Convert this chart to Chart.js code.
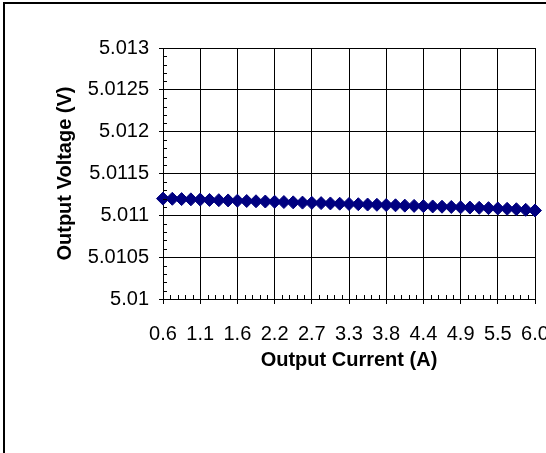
<!DOCTYPE html>
<html>
<head>
<meta charset="utf-8">
<script src="https://cdn.jsdelivr.net/npm/chart.js@4"></script>
<style>
  html, body { margin: 0; padding: 0; background: #fff; overflow: hidden; }
  #wrap { position: relative; width: 546px; height: 453px; }
  #frame { position: absolute; left: 3px; top: 2px; width: 600px; height: 500px; border: 2px solid #000; box-sizing: border-box; pointer-events: none; }
  canvas { position: absolute; left: 0; top: 0; }
</style>
</head>
<body>
<div id="wrap">
  <canvas id="c" width="546" height="453"></canvas>
  <div id="frame"></div>
</div>
<script>
// Output current (A), one entry per measurement; only every 4th is printed
const currents = [
  '0.6','0.7','0.8','1.0','1.1','1.2','1.4','1.5','1.6','1.8',
  '1.9','2.0','2.2','2.3','2.4','2.6','2.7','2.9','3.0','3.1',
  '3.3','3.4','3.5','3.7','3.8','4.0','4.1','4.2','4.4','4.5',
  '4.6','4.8','4.9','5.1','5.2','5.3','5.5','5.6','5.7','5.9','6.0'
];
// Output voltage (V)
const voltages = [
  5.011200, 5.011198, 5.011194, 5.011191, 5.011188, 5.011184, 5.011181, 5.011178, 5.011175, 5.011171,
  5.011168, 5.011165, 5.011162, 5.011159, 5.011155, 5.011152, 5.011149, 5.011146, 5.011142, 5.011139,
  5.011136, 5.011133, 5.011129, 5.011126, 5.011123, 5.011120, 5.011116, 5.011113, 5.011110, 5.011106,
  5.011103, 5.011100, 5.011096, 5.011093, 5.011090, 5.011086, 5.011082, 5.011078, 5.011073, 5.011066, 5.011058
];
const yTickLabels = ['5.01','5.0105','5.011','5.0115','5.012','5.0125','5.013'];
const labelEvery = 4;

const FONT = 'Liberation Sans, Arial, sans-serif';

// small inward minor ticks like the spreadsheet axes
const minorTicks = {
  id: 'minorTicks',
  afterDraw(chart){
    const {ctx, scales: {x, y}, chartArea: a} = chart;
    ctx.save();
    ctx.strokeStyle = '#000';
    ctx.lineWidth = 1;
    ctx.beginPath();
    for (let v = 5.0101; v < 5.013; v += 0.0001) {
      if (Math.abs(v * 2000 - Math.round(v * 2000)) < 1e-6) continue;
      const py = Math.round(y.getPixelForValue(v)) + 0.5;
      ctx.moveTo(a.left, py); ctx.lineTo(a.left + 4, py);
    }
    for (let i = 0; i < currents.length - 1; i += 0.8) {
      if (Math.abs(i / labelEvery - Math.round(i / labelEvery)) < 1e-6) continue;
      const px = Math.round(x.getPixelForValue(i)) + 0.5;
      ctx.moveTo(px, a.bottom); ctx.lineTo(px, a.bottom - 4);
    }
    ctx.stroke();
    ctx.restore();
  }
};

new Chart(document.getElementById('c'), {
  type: 'line',
  data: {
    labels: currents,
    datasets: [{
      data: voltages,
      borderColor: '#000080',
      borderWidth: 2,
      backgroundColor: '#000080',
      pointStyle: 'rectRot',
      pointRadius: 6.5,
      pointBorderWidth: 1,
      pointBorderColor: '#000080',
      pointBackgroundColor: '#000080',
      clip: false
    }]
  },
  options: {
    responsive: false,
    animation: false,
    layout: { padding: { top: 48, right: 11, left: 0, bottom: 0 } },
    plugins: { legend: { display: false }, tooltip: { enabled: false } },
    scales: {
      x: {
        afterFit(s){ s.height = 154; s.paddingLeft = 0; s.paddingRight = 0; },
        grid: { color: '#000', lineWidth: 1, tickLength: 5 },
        border: { color: '#000', width: 1 },
        ticks: {
          autoSkip: false, maxRotation: 0, padding: 18, color: '#000',
          font: { family: FONT, size: 20 },
          callback(v, i){ return i % labelEvery === 0 ? currents[i] : null; }
        },
        title: { display: true, text: 'Output Current (A)', color: '#000',
          font: { family: FONT, size: 20, weight: 'bold' }, padding: { top: 0, bottom: 81 } }
      },
      y: {
        min: 5.01, max: 5.013,
        afterFit(s){ s.width = 163; },
        grid: { color: '#000', lineWidth: 1, tickLength: 4 },
        border: { color: '#000', width: 1 },
        ticks: {
          stepSize: 0.0005, padding: 10, color: '#000',
          font: { family: FONT, size: 20 },
          callback(v, i){ return yTickLabels[i]; }
        },
        title: { display: true, text: 'Output Voltage (V)', color: '#000',
          font: { family: FONT, size: 20, weight: 'bold' }, padding: { top: 53, bottom: 0 } }
      }
    }
  },
  plugins: [minorTicks]
});
</script>
</body>
</html>
